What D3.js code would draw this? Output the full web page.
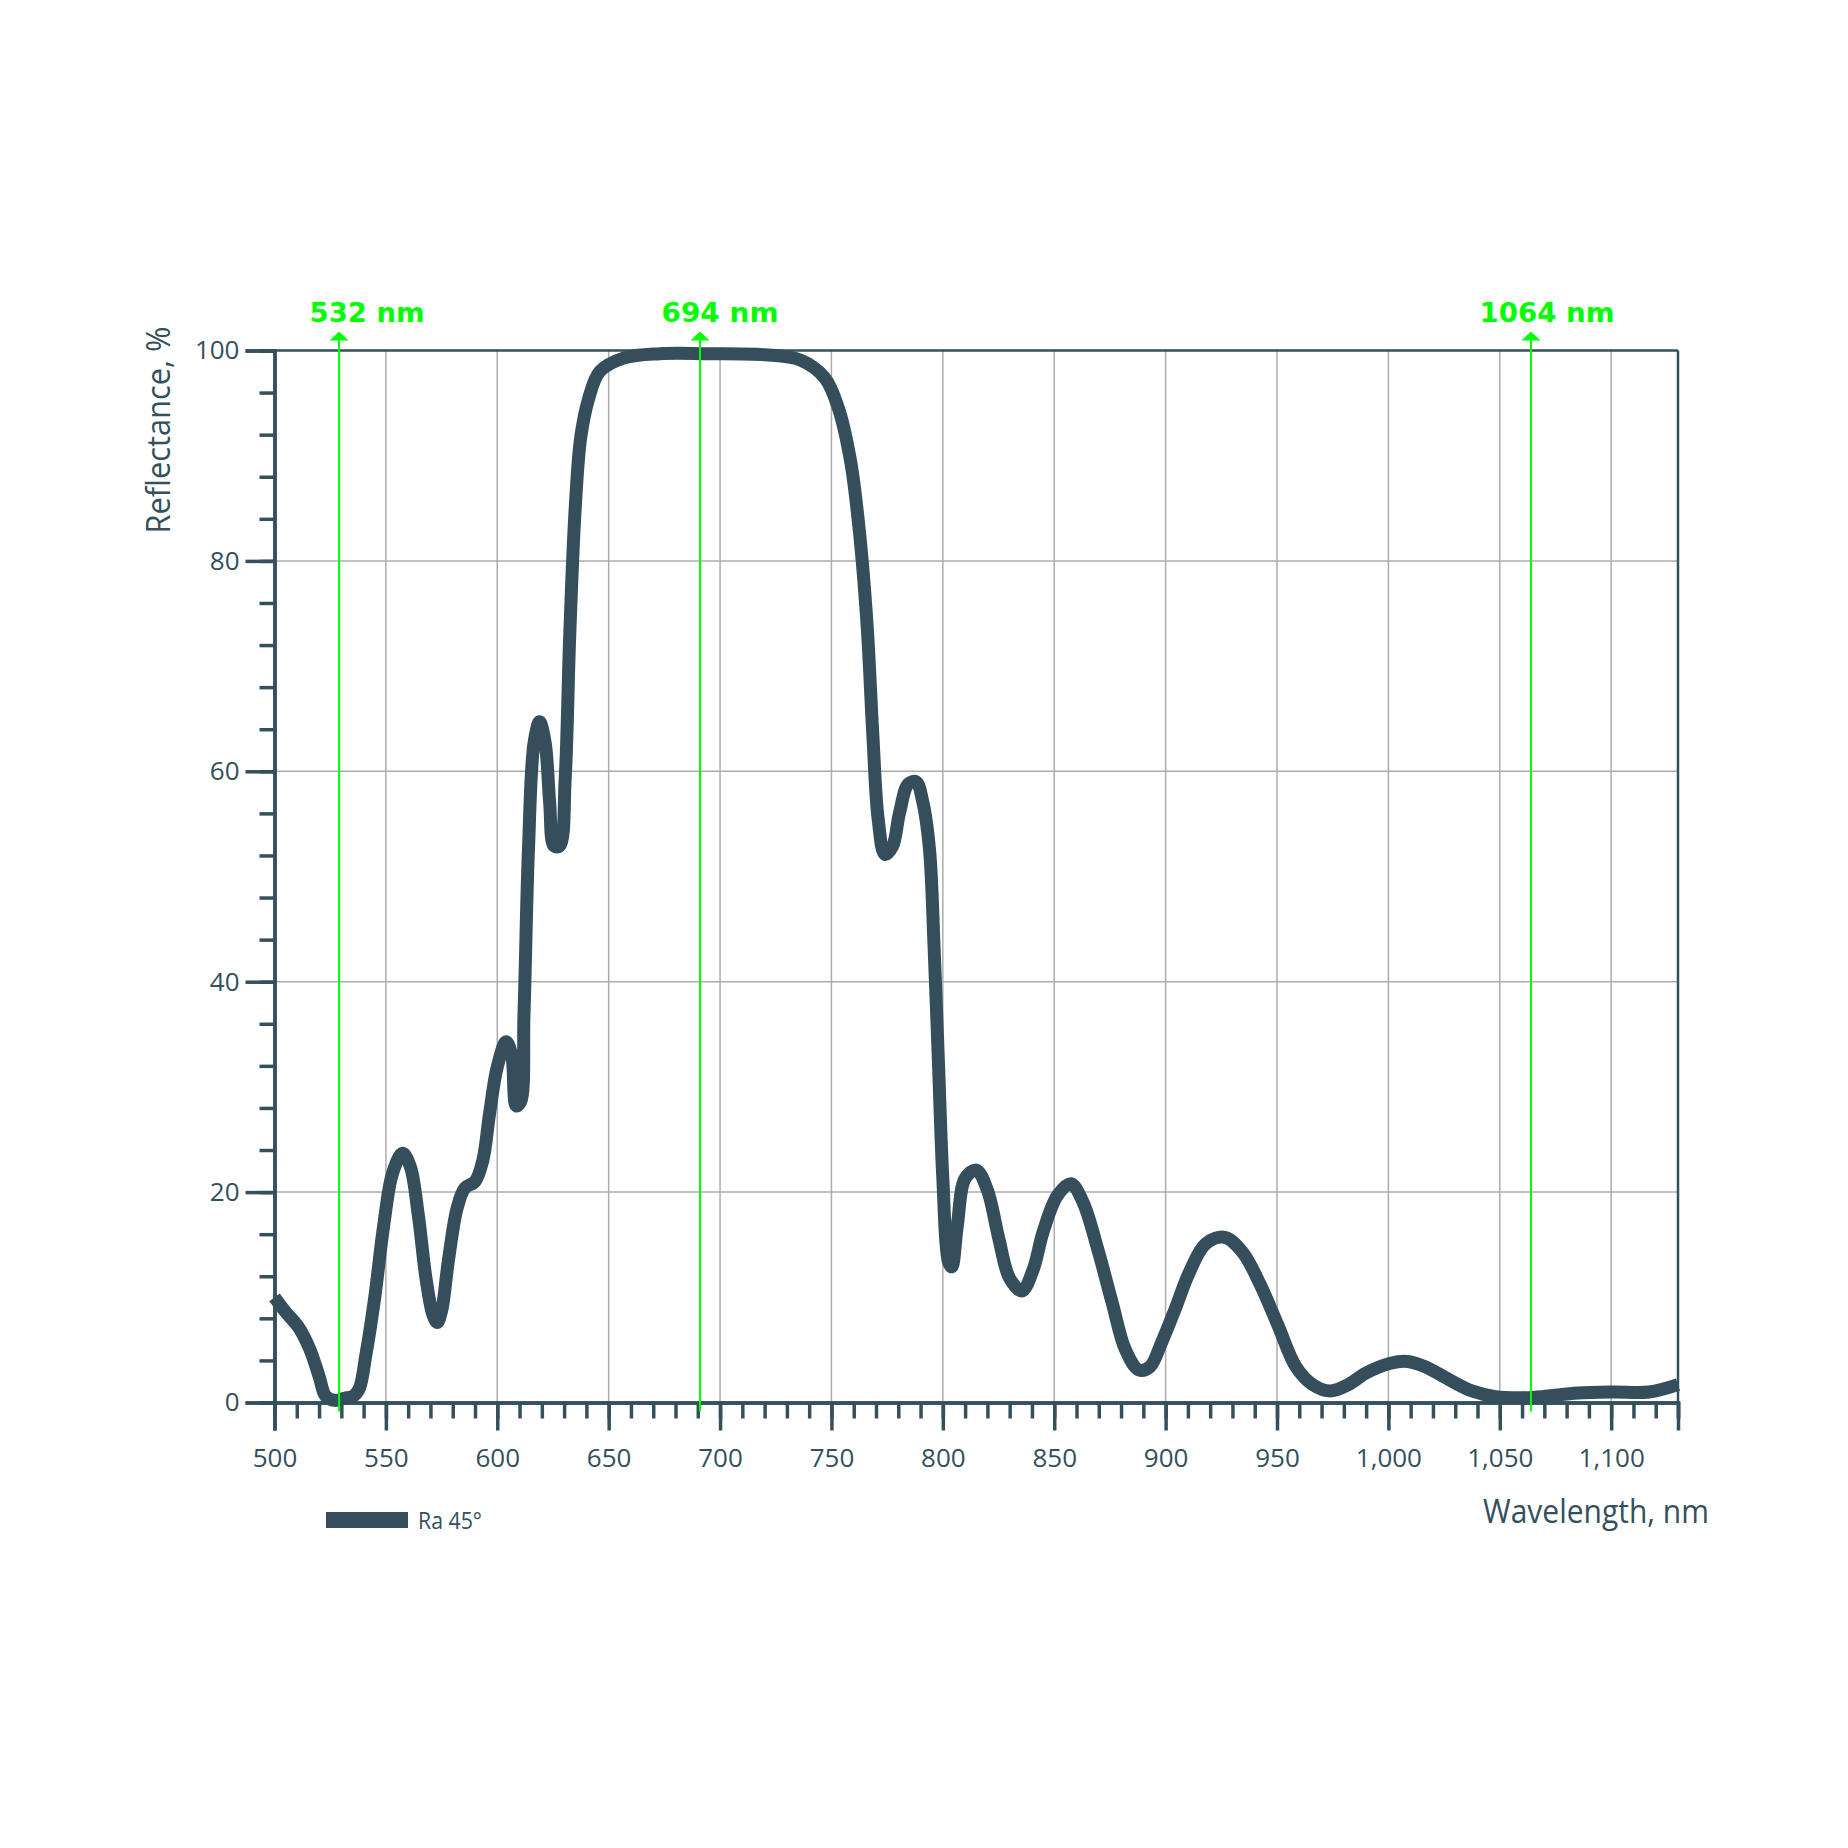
<!DOCTYPE html>
<html>
  <head>
    <meta charset="utf-8">
    <script src="https://cdn.jsdelivr.net/npm/d3@7"></script>
    <style>
      body { margin: 0; background: #fff; }
      .tick-label { font-family: "Open Sans", sans-serif; font-size: 26px; fill: #33505c; }
      .title { font-family: "Open Sans", sans-serif; fill: #33505c; }
      .marker-label { font-family: "DejaVu Sans", sans-serif; font-weight: bold; font-size: 26px; fill: #0f0; }
    </style>
  </head>
  <body>
    <script>
      // Reflectance curve, Ra 45°
      var wavelength = [500, 505, 511, 516, 520, 523, 527, 532, 535, 538, 541, 545, 549, 553, 557.5,
        561, 564.5, 568, 571, 573, 575, 578, 582, 585.5, 590, 593.5, 596.5, 600, 604, 606.5,
        608.5, 610.5, 612, 614, 616.5, 619, 621.5, 623.5, 625.5, 628, 630.5, 632.5, 635, 637.5,
        641, 646, 657, 673, 694, 720, 736, 747, 753, 758.5, 762.5, 766, 768.5, 771, 774, 777.5,
        780.5, 784.5, 788, 791, 794, 796, 798, 800, 802.5, 804, 806.5, 810, 815, 820, 825, 830,
        835.5, 840.5, 845, 851.5, 857.5, 863, 869.5, 876, 882, 888, 893, 898, 904.5, 910.5, 918,
        926.5, 934.5, 942.5, 950.5, 958.5, 966, 974, 982, 990, 1000.5, 1008.5, 1016.5, 1027,
        1037.5, 1048, 1058.5, 1069, 1085, 1101, 1117, 1130];
      var reflectance = [10, 8.6, 7.1, 5.0, 2.5, 0.6, 0.2, 0.45, 0.56, 1.3, 4.5, 10, 16.8, 21.8, 23.7,
        22.4, 17.9, 11.8, 8.4, 7.6, 8.7, 13.4, 18.5, 20.4, 21, 23, 27.4, 31.9, 34.3, 33,
        28.2, 28.6, 37, 52.6, 62.7, 64.7, 62.7, 57.1, 52.9, 52.9, 59.4, 72.8, 85.1, 91.8,
        95.4, 98, 99.3, 99.7, 99.7, 99.6, 99.1, 97.4, 94.6, 89.6, 82.9, 73.9, 63.8, 55.4, 52.1, 52.9,
        56, 58.8, 59, 57.1, 52.6, 43.7, 32.5, 21.3, 13.4, 12.9, 16.8, 21.3, 22.1, 20.2, 15.7, 11.8,
        10.6, 12.6, 16.2, 19.7, 20.8, 19, 14.6, 9.5, 5.0, 3.1, 3.4, 5.6, 9, 12.3, 15.1,
        15.7, 14.3, 11.2, 7.3, 3.4, 1.7, 1.1, 1.7, 2.8, 3.7, 3.9, 3.4, 2.2,
        1.1, 0.56, 0.45, 0.56, 0.9, 1.0, 1.0, 1.7];

      // Laser lines (where they are drawn) and their labels
      var markerPos = [529, 691, 1064];
      var markerLabels = ["532 nm", "694 nm", "1064 nm"];

      // Tick values
      var xMajor = d3.range(500, 1101, 50);
      var xMinor = d3.range(500, 1131, 10);
      var yMajor = d3.range(0, 101, 20);
      var yMinor = d3.range(0, 101, 4);

      var dark = "#33505c";
      var width = 1848, height = 1848;
      var plotLeft = 274.5, plotRight = 1678, plotTop = 350.5, plotBottom = 1402.5;

      var svg = d3.select("body").append("svg")
                  .attr("width", width)
                  .attr("height", height);

      var x = d3.scaleLinear().domain([500, 1130]).range([plotLeft, plotRight]);
      var y = d3.scaleLinear().domain([0, 100]).range([plotBottom, plotTop]);

      // Grid
      svg.append("g").selectAll("line")
         .data(xMajor.slice(1))
         .enter().append("line")
         .attr("x1", d => x(d)).attr("x2", d => x(d))
         .attr("y1", plotTop).attr("y2", plotBottom)
         .attr("stroke", "#acacac").attr("stroke-width", 1.5);
      svg.append("g").selectAll("line")
         .data(yMajor.slice(1, -1))
         .enter().append("line")
         .attr("x1", plotLeft).attr("x2", plotRight)
         .attr("y1", d => y(d)).attr("y2", d => y(d))
         .attr("stroke", "#acacac").attr("stroke-width", 1.5);

      // Frame (top and right)
      svg.append("line").attr("x1", plotLeft).attr("x2", plotRight)
         .attr("y1", plotTop).attr("y2", plotTop)
         .attr("stroke", dark).attr("stroke-width", 2.5);
      svg.append("line").attr("x1", plotRight).attr("x2", plotRight)
         .attr("y1", plotTop).attr("y2", plotBottom)
         .attr("stroke", dark).attr("stroke-width", 2.5);

      // Y axis
      var yAxisMinor = d3.axisLeft(y).tickValues(yMinor).tickSize(15).tickFormat("");
      var yAxisMajor = d3.axisLeft(y).tickValues(yMajor).tickSize(29).tickPadding(6);
      var gy1 = svg.append("g").attr("transform", "translate(" + plotLeft + ",0)").call(yAxisMinor);
      var gy2 = svg.append("g").attr("transform", "translate(" + plotLeft + ",0)").call(yAxisMajor);
      [gy1, gy2].forEach(function(g) {
        g.select(".domain").attr("stroke", dark).attr("stroke-width", 3.5);
        g.selectAll(".tick line").attr("stroke", dark).attr("stroke-width", 3.5);
      });
      gy2.selectAll(".tick text").attr("class", "tick-label").attr("font-size", null)
         .attr("font-family", null).attr("fill", null);

      // X axis
      var xAxisMinor = d3.axisBottom(x).tickValues(xMinor).tickSize(16).tickFormat("");
      var xAxisMajor = d3.axisBottom(x).tickValues(xMajor).tickSize(28).tickPadding(18)
                         .tickFormat(d3.format(","));
      var gx1 = svg.append("g").attr("transform", "translate(0," + plotBottom + ")").call(xAxisMinor);
      var gx2 = svg.append("g").attr("transform", "translate(0," + plotBottom + ")").call(xAxisMajor);
      [gx1, gx2].forEach(function(g) {
        g.select(".domain").attr("stroke", dark).attr("stroke-width", 3.5);
        g.selectAll(".tick line").attr("stroke", dark).attr("stroke-width", 3.5);
      });
      gx2.selectAll(".tick text").attr("class", "tick-label").attr("font-size", null)
         .attr("font-family", null).attr("fill", null);

      // Curve
      var points = wavelength.map((w, i) => [w, reflectance[i]]);
      var line = d3.line()
                   .x(d => x(d[0]))
                   .y(d => y(d[1]))
                   .curve(d3.curveCatmullRom.alpha(0.5));
      svg.append("path")
         .datum(points)
         .attr("d", line)
         .attr("fill", "none")
         .attr("stroke", "#344f5b")
         .attr("stroke-width", 13)
         .attr("stroke-linejoin", "round");

      // Laser markers
      var labelShift = [28, 20, 16];
      var labelLength = [115, 117, 135];
      var marker = svg.append("g").selectAll("g")
                      .data(markerPos)
                      .enter().append("g");
      marker.append("line")
            .attr("x1", d => x(d)).attr("x2", d => x(d))
            .attr("y1", plotTop - 12).attr("y2", plotBottom + 9)
            .attr("stroke", "#0f0").attr("stroke-width", 2);
      marker.append("path")
            .attr("d", d => "M" + (x(d) - 9.5) + "," + (plotTop - 10) + "L" + x(d) + "," + (plotTop - 19) +
                            "L" + (x(d) + 9.5) + "," + (plotTop - 10) + "Z")
            .attr("fill", "#0f0");
      marker.append("text")
            .attr("class", "marker-label")
            .attr("x", (d, i) => x(d) + labelShift[i])
            .attr("y", plotTop - 29)
            .attr("text-anchor", "middle")
            .attr("textLength", (d, i) => labelLength[i])
            .attr("lengthAdjust", "spacingAndGlyphs")
            .text((d, i) => markerLabels[i]);

      // Axis titles
      svg.append("text")
         .attr("class", "title")
         .attr("transform", "translate(170,430) rotate(-90)")
         .attr("text-anchor", "middle")
         .attr("font-size", 32)
         .attr("textLength", 207)
         .attr("lengthAdjust", "spacingAndGlyphs")
         .text("Reflectance, %");
      svg.append("text")
         .attr("class", "title")
         .attr("x", 1483).attr("y", 1523)
         .attr("font-size", 32)
         .attr("textLength", 226)
         .attr("lengthAdjust", "spacingAndGlyphs")
         .text("Wavelength, nm");

      // Legend
      svg.append("rect")
         .attr("x", 326).attr("y", 1512)
         .attr("width", 82).attr("height", 16)
         .attr("fill", "#344f5b");
      svg.append("text")
         .attr("class", "title")
         .attr("x", 418).attr("y", 1529)
         .attr("font-size", 23)
         .attr("textLength", 64)
         .attr("lengthAdjust", "spacingAndGlyphs")
         .text("Ra 45°");
    </script>
  </body>
</html>
